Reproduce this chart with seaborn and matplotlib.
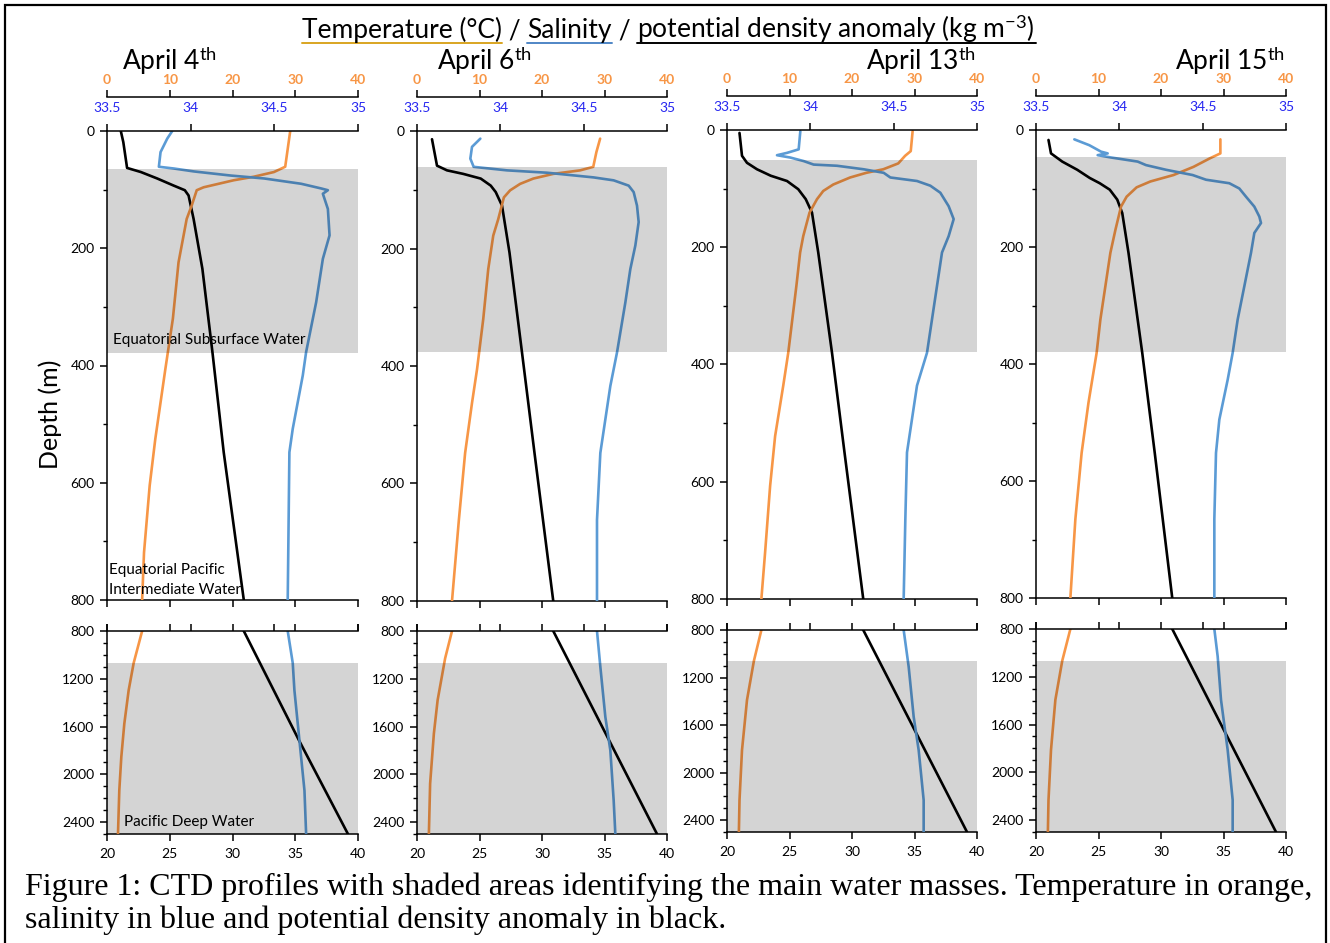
import matplotlib
matplotlib.use("Agg")
import matplotlib.pyplot as plt
from matplotlib.lines import Line2D
from matplotlib.patches import Rectangle
from matplotlib.ticker import MultipleLocator
import seaborn as sns

W, H = 1330, 943

# ---- data ---------------------------------------------------------------
dates = ["4", "6", "13", "15"]

# April 4th
t4_z = [0, 61, 70, 78, 84, 96, 101, 127, 150, 224, 320, 406, 525, 605, 719, 800,
        1068, 1297, 1576, 1855, 2135, 2500]
t4 = [29.2, 28.4, 26.6, 23.4, 20.2, 15.4, 14.3, 13.5, 12.7, 11.4, 10.5, 9.3, 7.7, 6.8, 5.9, 5.6,
      4.25, 3.45, 2.76, 2.28, 1.96, 1.75]
s4_z = [0, 13, 36, 61, 64, 69, 76, 81, 90, 98, 101, 107, 133, 178, 218, 292, 377, 417, 508, 548, 800,
        1068, 1297, 1716, 2135, 2500]
s4 = [33.89, 33.86, 33.82, 33.81, 33.90, 34.02, 34.24, 34.44, 34.66, 34.78, 34.82, 34.79, 34.82,
      34.83, 34.79, 34.75, 34.69, 34.67, 34.61, 34.59, 34.58, 34.61, 34.62, 34.65, 34.68, 34.69]
d4_z = [0, 19, 63, 70, 81, 93, 101, 110, 150, 235, 377, 548, 800, 1716, 2500]
d4 = [21.1, 21.3, 21.6, 22.7, 24.0, 25.3, 26.2, 26.5, 26.9, 27.6, 28.4, 29.3, 30.9, 35.3, 39.2]

# April 6th
t6_z = [13, 36, 61, 67, 73, 81, 90, 101, 113, 150, 178, 235, 320, 406, 463, 548, 662, 800,
        1029, 1379, 1659, 2078, 2500]
t6 = [29.3, 28.7, 28.2, 26.1, 21.8, 18.6, 16.5, 14.9, 13.9, 13.0, 12.2, 11.4, 10.6, 9.6, 8.8, 7.7,
      6.7, 5.6, 4.5, 3.3, 2.7, 2.1, 1.9]
s6_z = [13, 27, 47, 61, 67, 71, 79, 84, 93, 104, 127, 155, 195, 235, 292, 377, 434, 491, 548, 662,
        800, 1099, 1519, 1799, 2218, 2500]
s6 = [33.88, 33.83, 33.82, 33.84, 34.04, 34.28, 34.56, 34.68, 34.77, 34.80, 34.82, 34.83, 34.81,
      34.78, 34.75, 34.70, 34.66, 34.63, 34.60, 34.58, 34.58, 34.60, 34.63, 34.66, 34.68, 34.69]
d6_z = [14, 59, 67, 73, 81, 93, 104, 127, 207, 377, 548, 800, 2500]
d6 = [21.2, 21.6, 22.4, 23.7, 25.1, 25.9, 26.3, 26.8, 27.4, 28.4, 29.4, 30.9, 39.2]

# April 13th
t13_z = [2, 36, 44, 57, 67, 73, 81, 93, 104, 118, 141, 181, 209, 266, 380, 436, 522, 607, 720, 800,
         1061, 1389, 1811, 2232, 2500]
t13 = [29.7, 29.4, 28.5, 27.4, 25.0, 22.3, 19.7, 17.0, 15.4, 14.4, 13.2, 12.2, 11.7, 11.1, 9.8, 9.0,
       7.7, 6.9, 6.1, 5.5, 4.3, 3.2, 2.4, 2.0, 1.9]
s13_z = [2, 33, 39, 43, 47, 53, 59, 61, 67, 73, 81, 87, 95, 107, 130, 152, 181, 209, 266, 323, 380,
         436, 493, 550, 664, 800, 1109, 1530, 1811, 2232, 2500]
s13 = [33.94, 33.93, 33.86, 33.80, 33.88, 33.96, 34.02, 34.16, 34.32, 34.44, 34.48, 34.64, 34.72,
       34.78, 34.83, 34.86, 34.83, 34.79, 34.76, 34.73, 34.70, 34.64, 34.61, 34.58, 34.57, 34.56,
       34.59, 34.62, 34.65, 34.68, 34.68]
d13_z = [5, 44, 56, 67, 78, 87, 101, 118, 141, 209, 380, 550, 800, 2500]
d13 = [21.0, 21.2, 21.6, 22.4, 23.5, 24.8, 25.7, 26.3, 26.8, 27.3, 28.4, 29.4, 30.9, 39.2]

# April 15th
t15_z = [16, 40, 48, 63, 77, 88, 98, 114, 131, 171, 210, 267, 324, 381, 466, 552, 665, 800,
         1066, 1393, 1813, 2232, 2500]
t15 = [29.5, 29.5, 27.9, 25.2, 22.0, 18.3, 16.1, 14.5, 13.6, 12.7, 11.9, 11.1, 10.3, 9.7, 8.4, 7.3,
       6.3, 5.5, 4.2, 3.1, 2.4, 2.0, 1.9]
s15_z = [16, 26, 37, 40, 43, 47, 54, 60, 68, 77, 85, 91, 100, 114, 131, 148, 159, 176, 210, 267, 324,
         381, 427, 495, 552, 665, 800, 1029, 1393, 1813, 2232, 2500]
s15 = [33.73, 33.82, 33.89, 33.93, 33.87, 33.95, 34.11, 34.16, 34.28, 34.44, 34.52, 34.66, 34.72,
       34.76, 34.81, 34.84, 34.85, 34.81, 34.79, 34.75, 34.71, 34.68, 34.65, 34.60, 34.58, 34.57,
       34.57, 34.59, 34.61, 34.65, 34.68, 34.68]
d15_z = [17, 40, 54, 68, 82, 91, 102, 119, 142, 210, 381, 552, 800, 2500]
d15 = [21.0, 21.2, 22.1, 23.3, 24.3, 25.1, 25.9, 26.5, 26.9, 27.4, 28.5, 29.5, 30.9, 39.2]

# water mass depth ranges (m)
ess_top = [65, 62, 52, 47]
ess_bottom = [378, 377, 378, 379]
pdw_top = [1066, 1066, 1061, 1066]

temp_ticks = [0, 10, 20, 30, 40]
sal_ticks = [33.5, 34, 34.5, 35]
sal_tick_labels = ["33.5", "34", "34.5", "35"]
dens_ticks = [20, 25, 30, 35, 40]

profiles = [(t4_z, t4, s4_z, s4, d4_z, d4),
            (t6_z, t6, s6_z, s6, d6_z, d6),
            (t13_z, t13, s13_z, s13, d13_z, d13),
            (t15_z, t15, s15_z, s15, d15_z, d15)]

# ---- style ----------------------------------------------------------------
sns.set_style("ticks")
plt.rcParams["font.family"] = ["Lato", "DejaVu Sans"]
plt.rcParams["mathtext.fontset"] = "custom"
plt.rcParams["mathtext.rm"] = "Lato"
plt.rcParams["mathtext.it"] = "Lato:italic"
plt.rcParams["mathtext.bf"] = "Lato:bold"
plt.rcParams["axes.edgecolor"] = "black"
plt.rcParams["xtick.color"] = "black"
plt.rcParams["ytick.color"] = "black"
plt.rcParams["text.color"] = "black"

ORANGE = "#f79646"
BLUE = "#5b9bd5"
LBL_BLUE = "#2727f0"
LW = 1.9

fig = plt.figure(figsize=(W / 100, H / 100), dpi=100)


def px_axes(x0, y0, x1, y1):
    return fig.add_axes([x0 / W, 1 - y1 / H, (x1 - x0) / W, (y1 - y0) / H])


top_rects = [(107, 131, 358, 600), (417, 131, 667, 601), (727, 130, 977, 599), (1036, 130, 1286, 598)]
deep_rects = [(107, 631, 358, 834), (417, 631, 667, 834), (727, 630, 977, 832), (1036, 629, 1286, 832)]


def draw_panel(rect, prof, deep, span):
    tz, tv, sz, sv, dz, dv = prof
    ax = px_axes(*rect)
    ax_t = ax.twiny()
    ax_s = ax.twiny()

    sns.lineplot(x=dv, y=dz, ax=ax, color="black", lw=LW, estimator=None, sort=False)
    sns.lineplot(x=tv, y=tz, ax=ax_t, color=ORANGE, lw=LW, estimator=None, sort=False)
    sns.lineplot(x=sv, y=sz, ax=ax_s, color=BLUE, lw=LW, estimator=None, sort=False)

    ax.set_xlim(20, 40)
    ax_t.set_xlim(0, 40)
    ax_s.set_xlim(33.5, 35)
    if deep:
        ax.set_ylim(2500, 800)
        ax.yaxis.set_major_locator(MultipleLocator(400))
    else:
        ax.set_ylim(800, 0)
        ax.yaxis.set_major_locator(MultipleLocator(200))
    ax.yaxis.set_minor_locator(MultipleLocator(100))

    # shaded water mass on top of the coloured lines
    ax_s.axhspan(span[0], span[1], color="black", alpha=0.17, lw=0, zorder=5)

    for a in (ax, ax_t, ax_s):
        a.set_xlabel("")
        a.set_ylabel("")
        for sp in a.spines.values():
            sp.set_visible(False)
            sp.set_linewidth(1.1)

    # density axis (bottom) and depth axis
    ax.spines["left"].set_visible(True)
    ax.spines["bottom"].set_visible(True)
    ax.set_xticks(dens_ticks)
    ax.tick_params(axis="x", bottom=True, top=deep, labelbottom=deep, labeltop=False,
                   direction="out", length=5, width=1.1, labelsize=10, pad=5)
    ax.tick_params(axis="y", which="major", left=True, right=False, direction="out",
                   length=5, width=1.1, labelsize=10, pad=4)
    ax.tick_params(axis="y", which="minor", left=True, right=False, direction="out",
                   length=3, width=1)

    # salinity axis on the top spine
    ax_s.spines["top"].set_visible(True)
    ax_s.set_xticks(sal_ticks, labels=sal_tick_labels)
    ax_s.tick_params(axis="x", top=True, bottom=False, labeltop=not deep, labelbottom=False,
                     direction="out", length=5, width=1.1, labelsize=10, pad=7,
                     labelcolor=LBL_BLUE)

    # temperature axis above
    if deep:
        ax_t.axis("off")
    else:
        ax_t.spines["top"].set_visible(True)
        ax_t.spines["top"].set_position(("outward", 24.5))
        ax_t.set_xticks(temp_ticks)
        ax_t.tick_params(axis="x", top=True, bottom=False, labeltop=True, labelbottom=False,
                         direction="out", length=5, width=1.1, labelsize=10, pad=3,
                         labelcolor=ORANGE)
        plt.setp(ax_t.get_xticklabels(), fontweight="bold")
    return ax


for i in range(4):
    draw_panel(top_rects[i], profiles[i], False, (ess_top[i], ess_bottom[i]))
    draw_panel(deep_rects[i], profiles[i], True, (pdw_top[i], 2500))

# ---- texts ------------------------------------------------------------------
title_cx = [169, 484, 921, 1230]
for cx, d in zip(title_cx, dates):
    fig.text(cx / W, 1 - 70 / H, "April " + d + r"$^{\mathrm{th}}$", fontsize=19,
             ha="center", va="baseline")

fig.text(50 / W, 1 - 414 / H, "Depth (m)", rotation=90, fontsize=18, ha="center", va="center")

fig.text(113 / W, 1 - 340 / H, "Equatorial Subsurface Water", fontsize=11, va="center")
fig.text(109 / W, 1 - 580 / H, "Equatorial Pacific\nIntermediate Water", fontsize=11,
         va="center", linespacing=1.5)
fig.text(124 / W, 1 - 822 / H, "Pacific Deep Water", fontsize=11, va="center")

# main title built from runs, each with its own underline colour
title_parts = [("Temperature (°C)", "#d9a521"), (" / ", None), ("Salinity", "#4f86c6"),
               (" / ", None), (r"potential density anomaly (kg m$^{-3}$) ", "black")]
renderer = fig.canvas.get_renderer()
x = 302
for txt, ul in title_parts:
    t = fig.text(x / W, 1 - 38 / H, txt, fontsize=19, ha="left", va="baseline")
    bb = t.get_window_extent(renderer)
    if ul:
        fig.add_artist(Line2D([bb.x0 / W, bb.x1 / W], [1 - 43 / H] * 2, color=ul, lw=1.4))
    x = bb.x1

cap1 = "Figure 1: CTD profiles with shaded areas identifying the main water masses. Temperature in orange,"
cap2 = "salinity in blue and potential density anomaly in black."
fig.text(25 / W, 1 - 895 / H, cap1, family="Liberation Serif", fontsize=23, va="baseline")
fig.text(25 / W, 1 - 928 / H, cap2, family="Liberation Serif", fontsize=23, va="baseline")

# outer frame
fig.add_artist(Rectangle((5 / W, -0.02), 1321 / W, 1.02 - 5 / H, transform=fig.transFigure,
                         fill=False, ec="black", lw=1.6))

fig.savefig("out.png", dpi=100)
